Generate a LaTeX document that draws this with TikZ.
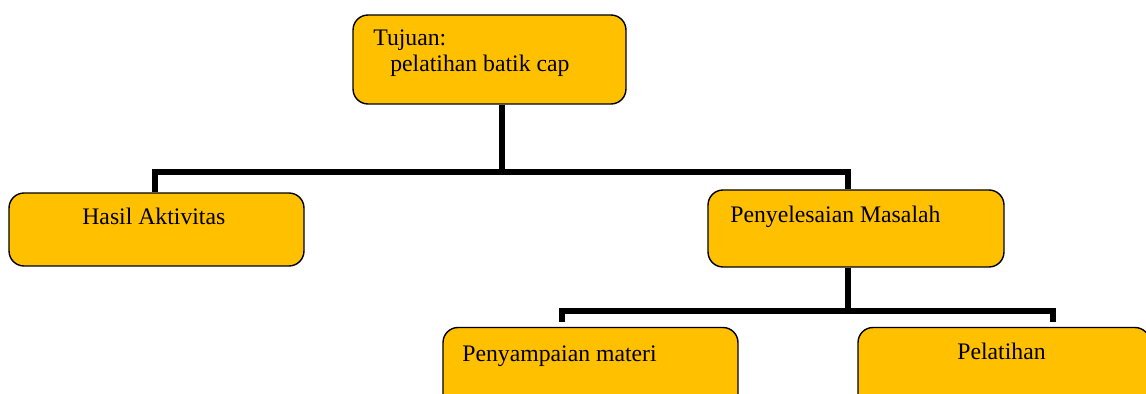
\documentclass[tikz,border=0pt]{standalone}
\usepackage{fontspec}
\setmainfont{Liberation Serif}
\usepackage{tikz}
\definecolor{emas}{HTML}{FFC000}
\tikzstyle{kotak}=[draw=black, line width=0.8pt, fill=emas, rounded corners=0.3cm, inner sep=0pt]
\tikzstyle{teks}=[anchor=base west, inner sep=0pt, font=\fontsize{13.5}{15.3}\selectfont]
\tikzstyle{garis}=[line width=3.2pt]

\begin{document}
\begin{tikzpicture}[x=0.02cm, y=-0.02cm]
        \useasboundingbox (0,0) rectangle (1146,394);
        \clip (0,0) rectangle (1146,394);

        %% Kotak
        \node[kotak, minimum width=5.46cm, minimum height=1.78cm] (atas) at (489.5,59.5) {};
        \node[kotak, minimum width=5.9cm, minimum height=1.46cm] (hasil) at (156.5,229.5) {};
        \node[kotak, minimum width=5.92cm, minimum height=1.54cm] (masalah) at (856,228.5) {};
        \node[kotak, minimum width=5.9cm, minimum height=1.7cm] (materi) at (590.5,370) {};
        \node[kotak, minimum width=5.84cm, minimum height=1.7cm] (pelatihan) at (1004,370) {};

        %% Teks
        % baris terakhir pada baseline
        \node[teks, align=left] (t_atas) at (373,72) {Tujuan:\\\hspace*{0.34cm}pelatihan batik cap};
        \node[teks] (t_hasil) at (82,225) {Hasil Aktivitas};
        \node[teks] (t_masalah) at (730,223) {Penyelesaian Masalah};
        \node[teks] (t_materi) at (462,362) {Penyampaian materi};
        \node[teks] (t_pelatihan) at (957,360) {Pelatihan};

        %% Garis
        % tingkat 1
        \coordinate (c1) at (502,172);
        \coordinate (ka1) at (155,172);
        \coordinate (kb1) at (848,172);
        \draw[garis] (atas.south -| c1) -- (c1);
        \draw[garis] (hasil.north -| ka1) -- (ka1) -- (kb1) -- (masalah.north -| kb1);
        % tingkat 2
        \coordinate (c2) at (848,311);
        \coordinate (ka2) at (562,311);
        \coordinate (kb2) at (1053,311);
        \coordinate (ta2) at (562,322);
        \coordinate (tb2) at (1053,322);
        \draw[garis] (masalah.south -| c2) -- (c2);
        \draw[garis] (ta2) -- (ka2) -- (kb2) -- (tb2);
    \end{tikzpicture}
\end{document}
